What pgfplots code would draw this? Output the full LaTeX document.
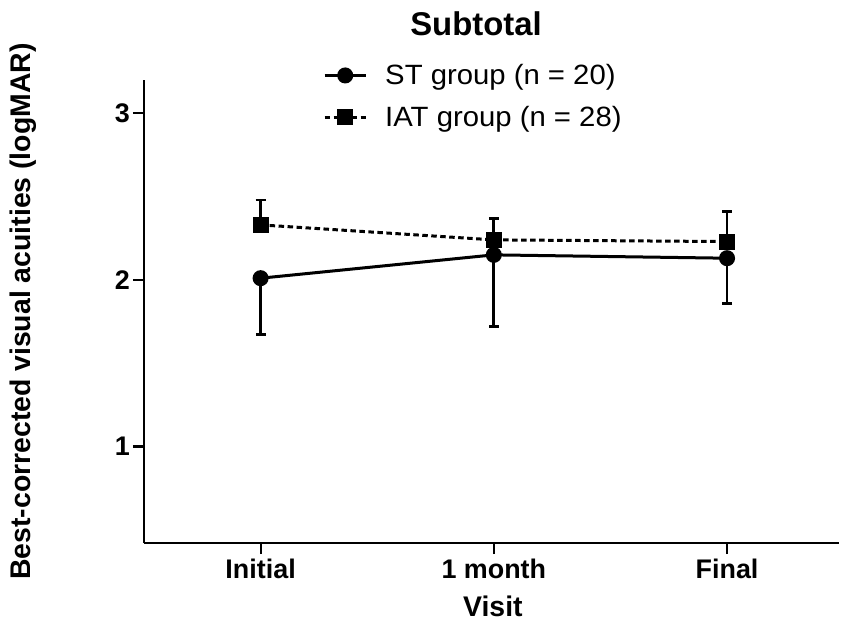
\documentclass[border=0pt]{standalone}
\usepackage{fontspec}
\setmainfont{Liberation Sans}
\newfontfamily\legfont[FakeStretch=1.05]{Liberation Sans}
\usepackage{pgfplots}
\pgfplotsset{compat=1.18}
\begin{document}
\begin{tikzpicture}
\begin{axis}[
  scale only axis,
  width=695bp, height=463bp,
  xmin=-0.5, xmax=2.48,
  ymin=0.42, ymax=3.2,
  axis lines*=left,
  axis line style={line width=2.8bp, black},
  xtick={0,1,2}, xticklabels={Initial,1 month,Final},
  ytick={1,2,3},
  tick align=outside,
  major tick length=11bp,
  tick style={line width=2.2bp, black},
  tick label style={font=\fontsize{27}{32}\selectfont\bfseries},
  xticklabel style={inner sep=5bp},
  yticklabel style={inner sep=3bp},
  /pgf/number format/assume math mode=true,
  xlabel={Visit},
  ylabel={Best-corrected visual acuities (logMAR)},
  label style={font=\fontsize{28.5}{34}\selectfont\bfseries},
  xlabel style={at={(axis description cs:0.502,-0.159)}, anchor=base},
  ylabel style={at={(axis description cs:-0.164,0.5)}, anchor=base},
  title={Subtotal},
  title style={at={(axis description cs:0.4777,1.084)}, anchor=base, font=\fontsize{33}{40}\selectfont\bfseries},
  clip=false,
  legend style={at={(axis description cs:0.2576,1.038)}, anchor=north west, draw=none, fill=none, inner sep=0pt, row sep=16bp, font=\legfont\fontsize{28}{33}\selectfont, nodes={inner sep=2bp}, /tikz/every odd column/.append style={column sep=16bp}},
  legend cell align=left,
  legend image code/.code={
    \draw[mark repeat=2,mark phase=2] plot coordinates {(0bp,0bp)(20.5bp,0bp)(41bp,0bp)};
  },
]
\addplot[black, line width=3bp, mark=*, mark size=6.5bp, mark options={solid},
  error bars/.cd, y dir=minus, y explicit,
  error bar style={line width=2.8bp, solid},
  error mark options={rotate=90, mark size=5bp, line width=2.8bp, solid}]
  coordinates {(0,2.01) +- (0,0.34) (1,2.15) +- (0,0.43) (2,2.13) +- (0,0.27)};
\addlegendentry{ST group (n = 20)}
\addplot[black, line width=3bp, dash pattern=on 5.5bp off 3.5bp, mark=square*, mark size=6.5bp, mark options={solid},
  error bars/.cd, y dir=plus, y explicit,
  error bar style={line width=2.8bp, solid},
  error mark options={rotate=90, mark size=5bp, line width=2.8bp, solid}]
  coordinates {(0,2.33) +- (0,0.15) (1,2.24) +- (0,0.13) (2,2.23) +- (0,0.18)};
\addlegendentry{IAT group (n = 28)}
\end{axis}
\pgfresetboundingbox
\path ([shift={(-144bp,-81bp)}]current axis.south west) rectangle ([shift={(2bp,80bp)}]current axis.north east);
\end{tikzpicture}
\end{document}
